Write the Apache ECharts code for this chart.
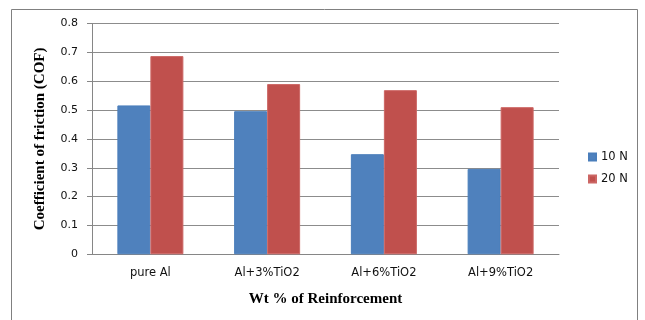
<!DOCTYPE html>
<html>
<head>
<meta charset="utf-8">
<script src="https://cdn.jsdelivr.net/npm/echarts@6/dist/echarts.min.js"></script>
<style>
html,body{margin:0;padding:0;background:#fff;}
#chart{width:645px;height:320px;}
</style>
</head>
<body>
<div id="chart"></div>
<script>
const categories = ['pure Al', 'Al+3%TiO2', 'Al+6%TiO2', 'Al+9%TiO2'];
const load10N = [0.516, 0.496, 0.347, 0.296];
const load20N = [0.687, 0.590, 0.569, 0.510];
const seriesNames = ['10 N', '20 N'];
const yTicks = { min: 0, max: 0.8, interval: 0.1 };

const chart = echarts.init(document.getElementById('chart'), null, { renderer: 'canvas' });
chart.setOption({
  animation: false,
  backgroundColor: '#ffffff',
  graphic: [{
    type: 'rect',
    shape: { x: 11.5, y: 9.5, width: 626, height: 330 },
    style: { fill: 'none', stroke: '#808080', lineWidth: 1 },
    silent: true
  }],
  grid: { left: 92, right: 86, top: 23.5, bottom: 65.7 },
  legend: {
    orient: 'vertical',
    left: 583,
    top: 146,
    itemWidth: 7,
    itemHeight: 7,
    itemGap: 10,
    icon: 'rect',
    textStyle: { fontFamily: 'DejaVu Sans', fontSize: 11.5, color: '#111' },
    data: seriesNames
  },
  xAxis: {
    type: 'category',
    data: categories,
    name: 'Wt % of Reinforcement',
    nameLocation: 'middle',
    nameGap: 37,
    nameTextStyle: { fontFamily: 'Liberation Serif', fontWeight: 'bold', fontSize: 15, color: '#000' },
    axisLine: { lineStyle: { color: '#868686', width: 1 } },
    axisTick: { show: false },
    axisLabel: { fontFamily: 'DejaVu Sans', fontSize: 11.5, color: '#111', margin: 13 }
  },
  yAxis: {
    type: 'value',
    min: yTicks.min,
    max: yTicks.max,
    interval: yTicks.interval,
    name: 'Coefficient of friction (COF)',
    nameLocation: 'middle',
    nameGap: 44,
    nameTextStyle: { fontFamily: 'Liberation Serif', fontWeight: 'bold', fontSize: 15, color: '#000' },
    axisLine: { show: true, lineStyle: { color: '#868686', width: 1 } },
    axisTick: { show: true, length: 5, lineStyle: { color: '#868686' } },
    splitLine: { show: true, lineStyle: { color: '#8c8c8c', width: 1 } },
    axisLabel: { fontFamily: 'DejaVu Sans', fontSize: 11, color: '#111', margin: 14,
      formatter: v => (Math.round(v * 10) / 10).toString() }
  },
  series: [
    {
      name: seriesNames[0], type: 'bar', data: load10N,
      barWidth: 33, barGap: '0%',
      itemStyle: { color: '#4F81BD', borderColor: '#4A7EBB', borderWidth: 1 }
    },
    {
      name: seriesNames[1], type: 'bar', data: load20N,
      barWidth: 33, barGap: '0%',
      itemStyle: { color: '#C0504D', borderColor: '#CC6664', borderWidth: 1 }
    }
  ]
});
</script>
</body>
</html>
